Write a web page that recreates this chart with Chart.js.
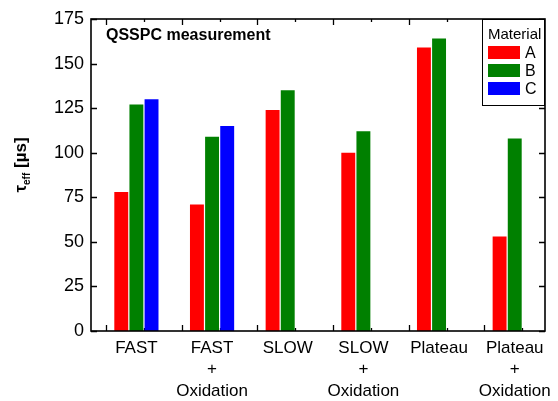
<!DOCTYPE html>
<html>
<head>
<meta charset="utf-8">
<script src="https://cdn.jsdelivr.net/npm/chart.js@4.4.0/dist/chart.umd.min.js"></script>
<style>
  html, body { margin: 0; padding: 0; background: #fff; }
</style>
</head>
<body>
<canvas id="chart" width="558" height="401"></canvas>
<script>
const categories = [
    ['FAST'],
    ['FAST', '+', 'Oxidation'],
    ['SLOW'],
    ['SLOW', '+', 'Oxidation'],
    ['Plateau'],
    ['Plateau', '+', 'Oxidation']
];
const materialA = [78, 71, 124, 100, 159, 53];
const materialB = [127, 109, 135, 112, 164, 108];
const materialC = [130, 115, null, null, null, null];
const yTicks = [0, 25, 50, 75, 100, 125, 150, 175];
const xMajorTicks = [0.6, 1.6, 2.6, 3.6, 4.6, 5.6];
const xMinorTicks = [1.1, 2.1, 3.1, 4.1, 5.1, 6.1];

const FONT = '"Liberation Sans", Arial, Helvetica, sans-serif';

function toPoints(values) {
    return values.map((v, i) => ({ x: i + 1, y: v }));
}

function makeDataset(label, values, color) {
    return {
        label: label,
        data: toPoints(values),
        backgroundColor: color,
        borderWidth: 0,
        barPercentage: 0.92,
        categoryPercentage: 0.6
    };
}

// inward tick marks on all four sides
const tickMarks = {
    id: 'tickMarks',
    beforeDatasetsDraw(chart) {
        const { ctx, chartArea: a, scales } = chart;
        ctx.save();
        ctx.strokeStyle = '#000';
        ctx.lineWidth = 1.3;
        ctx.beginPath();
        yTicks.forEach(v => {
            const y = Math.round(scales.y.getPixelForValue(v)) + 0.5;
            ctx.moveTo(a.left, y); ctx.lineTo(a.left + 6, y);
            ctx.moveTo(a.right, y); ctx.lineTo(a.right - 6, y);
        });
        xMajorTicks.forEach(v => {
            const x = Math.round(scales.x.getPixelForValue(v)) + 0.5;
            ctx.moveTo(x, a.bottom); ctx.lineTo(x, a.bottom - 6);
            ctx.moveTo(x, a.top); ctx.lineTo(x, a.top + 6);
        });
        xMinorTicks.forEach(v => {
            const x = Math.round(scales.x.getPixelForValue(v)) + 0.5;
            ctx.moveTo(x, a.bottom); ctx.lineTo(x, a.bottom - 3);
            ctx.moveTo(x, a.top); ctx.lineTo(x, a.top + 3);
        });
        ctx.stroke();
        ctx.restore();
    },
    afterDatasetsDraw(chart) {
        const { ctx, chartArea: a } = chart;
        ctx.save();
        ctx.strokeStyle = '#000';
        ctx.lineWidth = 1.6;
        ctx.strokeRect(a.left, a.top, a.right - a.left, a.bottom - a.top);
        ctx.restore();
    }
};

// title inside the plot, legend box and y axis title
const extras = {
    id: 'extras',
    afterDraw(chart) {
        const { ctx, chartArea: a } = chart;
        ctx.save();
        ctx.fillStyle = '#000';
        ctx.textBaseline = 'alphabetic';

        ctx.font = 'bold 16px ' + FONT;
        ctx.fillText('QSSPC measurement', a.left + 15, 40);

        // legend
        const lx = 482, ly = a.top, lw = a.right - 482, lh = 86;
        ctx.fillStyle = '#fff';
        ctx.fillRect(lx, ly, lw, lh);
        ctx.strokeStyle = '#000';
        ctx.lineWidth = 1;
        ctx.strokeRect(lx + 0.5, ly + 0.5, lw - 1, lh);
        ctx.fillStyle = '#000';
        ctx.font = '15px ' + FONT;
        ctx.fillText('Material', lx + 6, ly + 20);
        chart.data.datasets.forEach((ds, i) => {
            const y = ly + 27 + i * 18;
            ctx.fillStyle = ds.backgroundColor;
            ctx.fillRect(lx + 6, y, 32, 13);
            ctx.fillStyle = '#000';
            ctx.font = '16px ' + FONT;
            ctx.fillText(ds.label, lx + 43, y + 12);
        });

        // y axis title: tau_eff [µs]
        ctx.translate(26, 165);
        ctx.rotate(-Math.PI / 2);
        const big = 'bold 17px ' + FONT, small = 'bold 10px ' + FONT;
        ctx.font = big;
        const w1 = ctx.measureText('τ').width;
        const w3 = ctx.measureText(' [µs]').width;
        ctx.font = small;
        const w2 = ctx.measureText('eff').width;
        let x = -(w1 + w2 + w3) / 2;
        ctx.font = big;
        ctx.fillText('τ', x, 0);
        x += w1;
        ctx.font = small;
        ctx.fillText('eff', x, 4);
        x += w2;
        ctx.font = big;
        ctx.fillText(' [µs]', x, 0);
        ctx.restore();
    }
};

new Chart(document.getElementById('chart'), {
    type: 'bar',
    data: {
        datasets: [
            makeDataset('A', materialA, '#ff0000'),
            makeDataset('B', materialB, '#008000'),
            makeDataset('C', materialC, '#0000ff')
        ]
    },
    options: {
        responsive: false,
        animation: false,
        layout: { padding: { top: 19, right: 13, left: 0, bottom: 0 } },
        plugins: {
            legend: { display: false },
            tooltip: { enabled: false }
        },
        scales: {
            x: {
                type: 'linear',
                min: 0.4,
                max: 6.4,
                offset: false,
                grid: { display: false, drawTicks: false },
                border: { display: false },
                afterBuildTicks: (scale) => {
                    scale.ticks = categories.map((c, i) => ({ value: i + 1 }));
                },
                afterFit: (scale) => { scale.height = 70; },
                ticks: {
                    autoSkip: false,
                    maxRotation: 0,
                    padding: 6,
                    color: '#000',
                    font: { size: 17, family: FONT, lineHeight: 1.28 },
                    callback: (v) => categories[Math.round(v) - 1]
                }
            },
            y: {
                min: 0,
                max: 175,
                grid: { display: false, drawTicks: false },
                border: { display: false },
                afterBuildTicks: (scale) => {
                    scale.ticks = yTicks.map(v => ({ value: v }));
                },
                afterFit: (scale) => { scale.width = 91; },
                ticks: {
                    padding: 7,
                    color: '#000',
                    font: { size: 18, family: FONT }
                }
            }
        }
    },
    plugins: [tickMarks, extras]
});
</script>
</body>
</html>
